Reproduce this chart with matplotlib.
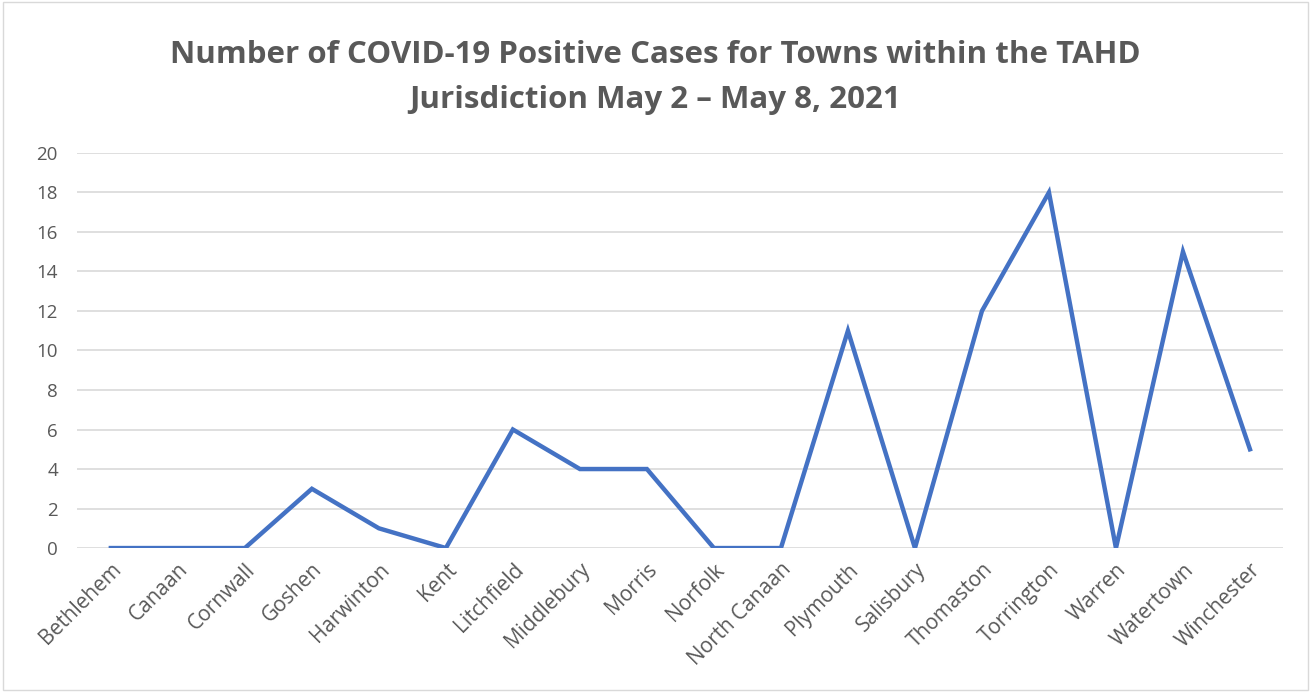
import matplotlib.pyplot as plt
from matplotlib.patches import Rectangle

towns = ['Bethlehem', 'Canaan', 'Cornwall', 'Goshen', 'Harwinton', 'Kent',
         'Litchfield', 'Middlebury', 'Morris', 'Norfolk', 'North Canaan',
         'Plymouth', 'Salisbury', 'Thomaston', 'Torrington', 'Warren',
         'Watertown', 'Winchester']
cases = [0, 0, 0, 3, 1, 0, 6, 4, 4, 0, 0, 11, 0, 12, 18, 0, 15, 5]
y_ticks = list(range(0, 21, 2))

plt.rcParams['font.family'] = ['Open Sans', 'DejaVu Sans']

fig = plt.figure(figsize=(13.11, 6.92), dpi=100)
ax = fig.add_axes([0.059, 0.208, 0.920, 0.571])

x = list(range(len(towns)))
ax.plot(x, cases, color='#4472C4', linewidth=3.2, solid_joinstyle='miter')

ax.set_xlim(-0.5, len(towns) - 0.5)
ax.set_ylim(0, 20)
ax.set_yticks(y_ticks)
ax.set_xticks(x)
ax.set_xticklabels(towns, rotation=45, ha='right', rotation_mode='anchor')
ax.tick_params(axis='y', length=0, labelsize=13.5, colors='#595959', pad=14)
ax.tick_params(axis='x', length=0, labelsize=15, colors='#595959', pad=8)
ax.grid(axis='y', color='#D9D9D9', linewidth=1.2)
ax.set_axisbelow(True)
for s in ax.spines.values():
    s.set_visible(False)

fig.text(0.5, 0.921, 'Number of COVID-19 Positive Cases for Towns within the TAHD',
         ha='center', va='center', fontsize=22.5, fontweight='bold', color='#595959')
fig.text(0.5, 0.856, 'Jurisdiction May 2 \u2013 May 8, 2021',
         ha='center', va='center', fontsize=22.5, fontweight='bold', color='#595959')

fig.patches.append(Rectangle((0.002, 0.003), 0.996, 0.994, transform=fig.transFigure,
                             fill=False, edgecolor='#D9D9D9', linewidth=1.0))

fig.savefig('out.png', dpi=100)
